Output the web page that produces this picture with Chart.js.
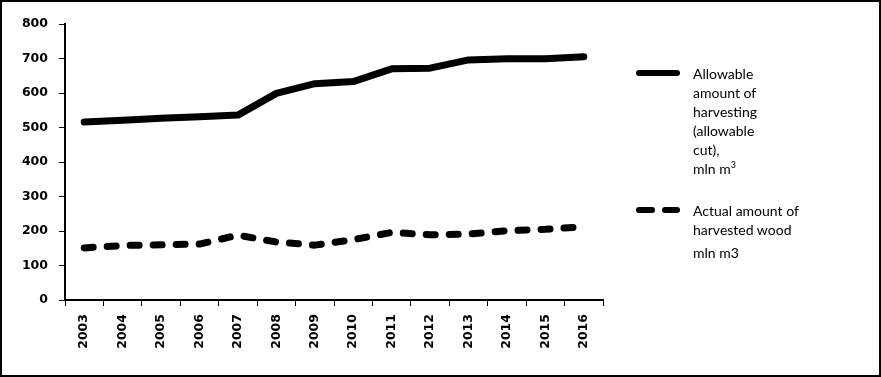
<!DOCTYPE html>
<html>
<head>
<meta charset="utf-8">
<script src="https://cdn.jsdelivr.net/npm/chart.js@4.4.1/dist/chart.umd.min.js"></script>
<style>
  body { margin: 0; background: #fff; }
  #wrap { position: relative; width: 881px; height: 377px; }
  #frame { position: absolute; left: 0; top: 0; width: 881px; height: 377px; box-sizing: border-box; border: 2px solid #000; pointer-events: none; }
  .legend { position: absolute; left: 636px; font-family: Lato, "Open Sans", sans-serif; font-size: 14px; color: #000; line-height: 19px; }
  .legend .txt { position: absolute; left: 57px; top: 0; width: 160px; }
  .sample { position: absolute; height: 6px; background: #000; border-radius: 3px; }
</style>
</head>
<body>
<div id="wrap">
  <canvas id="chart" width="881" height="377"></canvas>
  <div class="legend" style="top: 64px;">
    <div class="sample" style="left: 0; top: 6px; width: 44px;"></div>
    <div class="txt">Allowable<br>amount of<br>harvesting<br>(allowable<br>cut),<br>mln m<sup style="font-size:9px;line-height:0">3</sup></div>
  </div>
  <div class="legend" style="top: 201px;">
    <div class="sample" style="left: 0; top: 6px; width: 19px;"></div>
    <div class="sample" style="left: 26px; top: 6px; width: 18px;"></div>
    <div class="txt">Actual amount of<br>harvested wood<br><span style="display:inline-block;margin-top:4px">mln m3</span></div>
  </div>
  <div id="frame"></div>
</div>
<script>
// data
const years = ['2003', '2004', '2005', '2006', '2007', '2008', '2009', '2010', '2011', '2012', '2013', '2014', '2015', '2016'];
const allowableCut = [516, 521, 527, 531, 536, 599, 627, 633, 670, 672, 696, 699, 699, 705];
const actualHarvest = [151, 158, 160, 162, 188, 168, 159, 175, 196, 189, 191, 201, 205, 212];
const yTicks = [0, 100, 200, 300, 400, 500, 600, 700, 800];

const tickFont = { family: 'DejaVu Sans', size: 12.5, weight: 'bold' };

const ctx = document.getElementById('chart').getContext('2d');
new Chart(ctx, {
    type: 'line',
    data: {
        labels: years,
        datasets: [{
            label: 'Allowable amount of harvesting (allowable cut), mln m3',
            data: allowableCut,
            borderColor: '#000',
            borderWidth: 7,
            borderCapStyle: 'round',
            borderJoinStyle: 'round',
            pointRadius: 0,
            tension: 0,
            fill: false
        }, {
            label: 'Actual amount of harvested wood mln m3',
            data: actualHarvest,
            borderColor: '#000',
            borderWidth: 7,
            borderDash: [9, 14],
            borderCapStyle: 'round',
            borderJoinStyle: 'round',
            pointRadius: 0,
            tension: 0,
            fill: false
        }]
    },
    options: {
        responsive: false,
        animation: false,
        layout: { padding: { left: 0, top: 24, right: 278, bottom: 0 } },
        plugins: {
            legend: { display: false },
            tooltip: { enabled: false }
        },
        scales: {
            x: {
                offset: true,
                grid: { display: true, offset: true, drawOnChartArea: false, tickLength: 6, color: '#000', lineWidth: 1 },
                border: { display: true, color: '#000', width: 2 },
                ticks: { color: '#000', font: tickFont, minRotation: 90, maxRotation: 90, padding: 8, autoSkip: false },
                afterFit: (scale) => { scale.height = 77; }
            },
            y: {
                min: 0,
                max: 800,
                afterBuildTicks: (scale) => { scale.ticks = yTicks.map(v => ({ value: v })); },
                grid: { display: true, drawOnChartArea: false, tickLength: 6, color: '#000', lineWidth: 1 },
                border: { display: true, color: '#000', width: 2 },
                ticks: { color: '#000', font: tickFont, padding: 11 },
                afterFit: (scale) => { scale.width = 65; }
            }
        }
    }
});
</script>
</body>
</html>
